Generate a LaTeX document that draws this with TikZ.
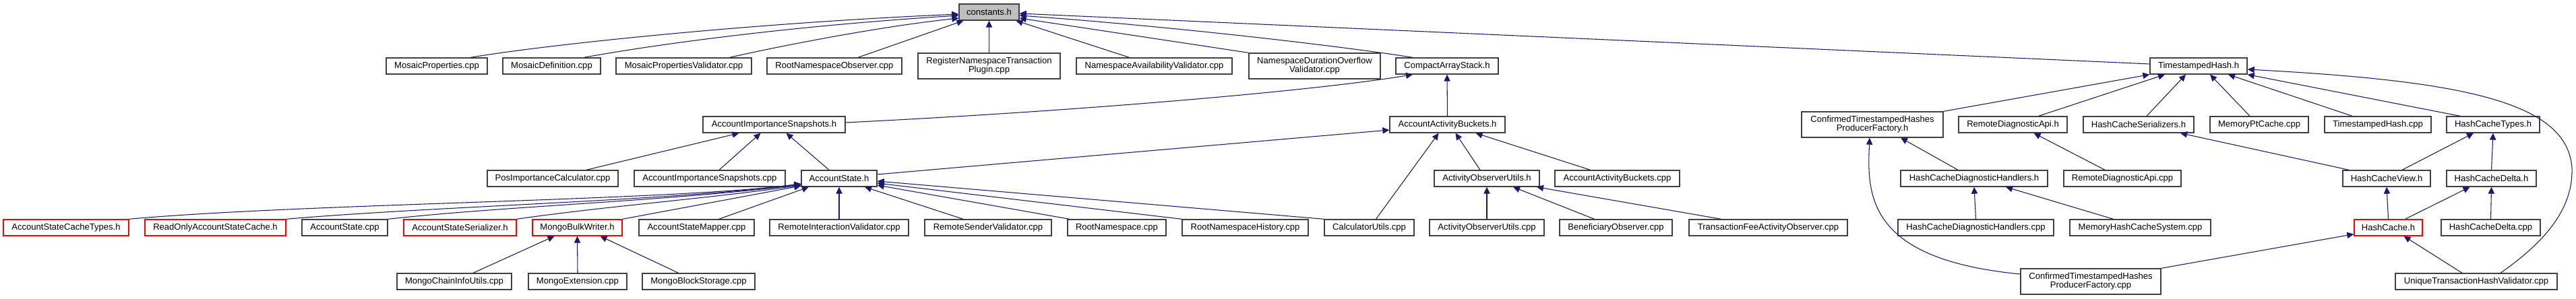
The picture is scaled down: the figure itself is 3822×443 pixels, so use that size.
\documentclass[tikz,border=0pt]{standalone}
\usepackage{fontspec}
\setmainfont{Liberation Sans}
\usetikzlibrary{calc,arrows.meta}
\definecolor{edgeblue}{RGB}{25,25,112}
\definecolor{boxgray}{RGB}{64,64,64}
\definecolor{rootfill}{RGB}{191,191,191}
\tikzset{
 nbox/.style={draw=boxgray, line width=1pt, fill=white, inner sep=0pt, align=center, font=\fontsize{9.8}{9.8}\selectfont},
 redbox/.style={nbox, draw=red},
 rootbox/.style={nbox, fill=rootfill},
 dep/.style={draw=edgeblue, line width=0.8pt, -{Triangle[length=7.5pt,width=7pt]}},
}
\newcommand\bx[7][nbox]{\node[#1, minimum width={(#4-#3)*0.75pt}, minimum height={(#6-#5)*0.75pt}] (#2) at ({(#3+#4)/2},{(#5+#6)/2}) {#7};}
\begin{document}
\begin{tikzpicture}[x=0.75pt,y=-0.75pt]
\fill[white] (0,0) rectangle (3822,443);
\useasboundingbox (0,0) rectangle (3822,443);
% row A
\bx[rootbox]{constants}{1423}{1512}{6}{30}{constants.h}
% row B
\bx{mosaicprop}{573}{723}{86}{110}{MosaicProperties.cpp}
\bx{mosaicdef}{746}{891}{86}{110}{MosaicDefinition.cpp}
\bx{mosaicpropval}{914}{1115}{86}{110}{MosaicPropertiesValidator.cpp}
\bx{rootnsobs}{1138}{1338}{86}{110}{RootNamespaceObserver.cpp}
\bx{regns}{1362}{1573}{79}{117}{RegisterNamespaceTransaction\\Plugin.cpp}
\bx{nsavail}{1597}{1828}{86}{110}{NamespaceAvailabilityValidator.cpp}
\bx{nsdur}{1853}{2048}{79}{117}{NamespaceDurationOverflow\\Validator.cpp}
\bx{cas}{2071}{2223}{86}{110}{CompactArrayStack.h}
\bx{tsh}{3190}{3334}{86}{110}{TimestampedHash.h}
% row C
\bx{ais}{1043}{1254}{173}{197}{AccountImportanceSnapshots.h}
\bx{aab}{2062}{2233}{173}{197}{AccountActivityBuckets.h}
\bx{cthpfh}{2673}{2883}{166}{204}{ConfirmedTimestampedHashes\\ProducerFactory.h}
\bx{rdapih}{2906}{3067}{173}{197}{RemoteDiagnosticApi.h}
\bx{hcser}{3091}{3255}{173}{197}{HashCacheSerializers.h}
\bx{mptc}{3279}{3425}{173}{197}{MemoryPtCache.cpp}
\bx{tshcpp}{3449}{3607}{173}{197}{TimestampedHash.cpp}
\bx{hctypes}{3630}{3768}{173}{197}{HashCacheTypes.h}
% row D
\bx{posimp}{723}{917}{253}{277}{PosImportanceCalculator.cpp}
\bx{aiscpp}{941}{1165}{253}{277}{AccountImportanceSnapshots.cpp}
\bx{ash}{1189}{1301}{253}{277}{AccountState.h}
\bx{aouh}{2128}{2284}{253}{277}{ActivityObserverUtils.h}
\bx{aabcpp}{2307}{2492}{253}{277}{AccountActivityBuckets.cpp}
\bx{hcdhh}{2820}{3038}{253}{277}{HashCacheDiagnosticHandlers.h}
\bx{rdapicpp}{3062}{3236}{253}{277}{RemoteDiagnosticApi.cpp}
\bx{hcview}{3476}{3606}{253}{277}{HashCacheView.h}
\bx{hcdelta}{3630}{3763}{253}{277}{HashCacheDelta.h}
% row E
\bx[redbox]{asct}{5}{191}{326}{350}{AccountStateCacheTypes.h}
\bx[redbox]{roasc}{215}{424}{326}{350}{ReadOnlyAccountStateCache.h}
\bx{ascpp}{448}{575}{326}{350}{AccountState.cpp}
\bx[redbox]{asser}{599}{766}{326}{350}{AccountStateSerializer.h}
\bx[redbox]{mbw}{790}{923}{326}{350}{MongoBulkWriter.h}
\bx{asmap}{948}{1119}{326}{350}{AccountStateMapper.cpp}
\bx{riv}{1142}{1348}{326}{350}{RemoteInteractionValidator.cpp}
\bx{rsv}{1372}{1560}{326}{350}{RemoteSenderValidator.cpp}
\bx{rns}{1584}{1730}{326}{350}{RootNamespace.cpp}
\bx{rnsh}{1754}{1941}{326}{350}{RootNamespaceHistory.cpp}
\bx{calc}{1965}{2098}{326}{350}{CalculatorUtils.cpp}
\bx{aoucpp}{2121}{2291}{326}{350}{ActivityObserverUtils.cpp}
\bx{bo}{2314}{2481}{326}{350}{BeneficiaryObserver.cpp}
\bx{tfao}{2506}{2741}{326}{350}{TransactionFeeActivityObserver.cpp}
\bx{hcdhcpp}{2816}{3047}{326}{350}{HashCacheDiagnosticHandlers.cpp}
\bx{mhcs}{3071}{3280}{326}{350}{MemoryHashCacheSystem.cpp}
\bx[redbox]{hc}{3493}{3594}{326}{350}{HashCache.h}
\bx{hcdcpp}{3622}{3769}{326}{350}{HashCacheDelta.cpp}
% row F
\bx{mciu}{589}{759}{406}{430}{MongoChainInfoUtils.cpp}
\bx{mext}{784}{930}{406}{430}{MongoExtension.cpp}
\bx{mbs}{953}{1120}{406}{430}{MongoBlockStorage.cpp}
\bx{cthpfcpp}{2998}{3206}{399}{437}{ConfirmedTimestampedHashes\\ProducerFactory.cpp}
\bx{uthv}{3554}{3794}{406}{430}{UniqueTransactionHashValidator.cpp}
\coordinate (uthvbend) at (3816,250);
% edges to constants.h
\draw[dep] ($(mosaicprop.north)+(50,0)$) .. controls (800,68) and (1100,35) .. ($(constants.west)+(0,3)$);
\draw[dep] ($(mosaicdef.north)+(48,0)$) .. controls (950,70) and (1150,40) .. ($(constants.west)+(0,5)$);
\draw[dep] ($(mosaicpropval.north)+(68,0)$) .. controls (1150,70) and (1300,40) .. ($(constants.west)+(0,9)$);
\draw[dep] ($(rootnsobs.north)+(35,0)$) -- ($(constants.south)+(-38,0)$);
\draw[dep] (regns.north) -- (constants.south);
\draw[dep] ($(nsavail.north)+(-37,0)$) -- ($(constants.south)+(40,0)$);
\draw[dep] (nsdur.north west) -- ($(constants.east)+(0,9)$);
\draw[dep] ($(cas.north)+(-51,0)$) .. controls (2000,70) and (1750,40) .. ($(constants.east)+(0,5)$);
\draw[dep] ($(tsh.west)+(0,-3)$) -- ($(constants.east)+(0,2)$);
% CompactArrayStack.h
\draw[dep] ($(ais.east)+(0,-3)$) .. controls (1600,165) and (1950,135) .. ($(cas.south)+(-51,0)$);
\draw[dep] (aab.north) -- (cas.south);
% AccountImportanceSnapshots.h
\draw[dep] ($(posimp.north)+(50,0)$) -- ($(ais.south)+(-52,0)$);
\draw[dep] ($(aiscpp.north)+(14,0)$) -- ($(ais.south)+(-20,0)$);
\draw[dep] ($(ash.north)+(-15,0)$) -- ($(ais.south)+(18,0)$);
% AccountActivityBuckets.h
\draw[dep] ($(ash.east)+(0,-6)$) -- ($(aab.west)+(0,8)$);
\draw[dep] ($(calc.north)+(10,0)$) -- ($(aab.south)+(-13,0)$);
\draw[dep] ($(aouh.north)+(-10,0)$) -- ($(aab.south)+(12,0)$);
\draw[dep] ($(aabcpp.north)+(-40,0)$) -- ($(aab.south)+(42,0)$);
% AccountState.h
\draw[dep] (asct.north east) .. controls (450,302) and (1000,298) .. ($(ash.west)+(0,8)$);
\draw[dep] (roasc.north east) .. controls (650,306) and (1000,298) .. ($(ash.west)+(0,8)$);
\draw[dep] (ascpp.north east) .. controls (750,306) and (1000,298) .. ($(ash.west)+(0,9)$);
\draw[dep] (asser.north east) .. controls (900,306) and (1050,295) .. ($(ash.west)+(0,10)$);
\draw[dep] (mbw.north east) -- ($(ash.west)+(0,11)$);
\draw[dep] ($(asmap.north)+(33,0)$) -- ($(ash.south)+(-45,0)$);
\draw[dep] (riv.north) -- (ash.south);
\draw[dep] ($(rsv.north)+(-37,0)$) -- ($(ash.south)+(38,0)$);
\draw[dep] ($(rns.north)+(-70,0)$) -- ($(ash.east)+(0,10)$);
\draw[dep] (rnsh.north west) -- ($(ash.east)+(0,7)$);
\draw[dep] (calc.north west) -- ($(ash.east)+(0,4)$);
% MongoBulkWriter.h
\draw[dep] ($(mciu.north)+(28,0)$) -- ($(mbw.south)+(-34,0)$);
\draw[dep] (mext.north) -- (mbw.south);
\draw[dep] ($(mbs.north)+(-30,0)$) -- ($(mbw.south)+(34,0)$);
% ActivityObserverUtils.h
\draw[dep] (aoucpp.north) -- (aouh.south);
\draw[dep] ($(bo.north)+(-32,0)$) -- ($(aouh.south)+(39,0)$);
\draw[dep] ($(tfao.north)+(-70,0)$) -- ($(aouh.south)+(74,0)$);
% TimestampedHash.h
\draw[dep] (cthpfh.north east) -- (tsh.south west);
\draw[dep] ($(rdapih.north)+(38,0)$) -- ($(tsh.south)+(-50,0)$);
\draw[dep] ($(hcser.north)+(12,0)$) -- ($(tsh.south)+(-19,0)$);
\draw[dep] ($(mptc.north)+(-14,0)$) -- ($(tsh.south)+(17,0)$);
\draw[dep] ($(tshcpp.north)+(-38,0)$) -- ($(tsh.south)+(44,0)$);
\draw[dep] ($(hctypes.north)+(-49,0)$) -- (tsh.south east);
\draw[dep] ($(uthv.north)+(36,0)$) .. controls (3760,370) and (3818,320) .. (uthvbend) .. controls (3810,150) and (3650,120) .. ($(tsh.east)+(0,5)$);
% ConfirmedTimestampedHashesProducerFactory.h
\draw[dep] ($(hcdhh.north)+(-24,0)$) -- ($(cthpfh.south)+(42,0)$);
\draw[dep] ($(cthpfcpp.west)+(0,-11)$) .. controls (2770,385) and (2770,290) .. ($(cthpfh.south)+(-4,0)$);
% others
\draw[dep] ($(rdapicpp.north)+(-26,0)$) -- ($(rdapih.south)+(31,0)$);
\draw[dep] ($(hcview.north)+(-56,0)$) -- ($(hcser.south)+(62,0)$);
\draw[dep] ($(hcview.north)+(23,0)$) -- ($(hctypes.south)+(-29,0)$);
\draw[dep] (hcdelta.north) -- (hctypes.south);
\draw[dep] (hcdhcpp.north) -- (hcdhh.south);
\draw[dep] ($(mhcs.north)+(-40,0)$) -- ($(hcdhh.south)+(47,0)$);
\draw[dep] (hc.north) -- (hcview.south);
\draw[dep] ($(hc.north)+(25,0)$) -- ($(hcdelta.south)+(-32,0)$);
\draw[dep] (hcdcpp.north) -- (hcdelta.south);
\draw[dep] (cthpfcpp.north east) -- ($(hc.south west)+(0,-3)$);
\draw[dep] ($(uthv.north)+(-21,0)$) -- ($(hc.south)+(23,0)$);
\end{tikzpicture}
\end{document}
